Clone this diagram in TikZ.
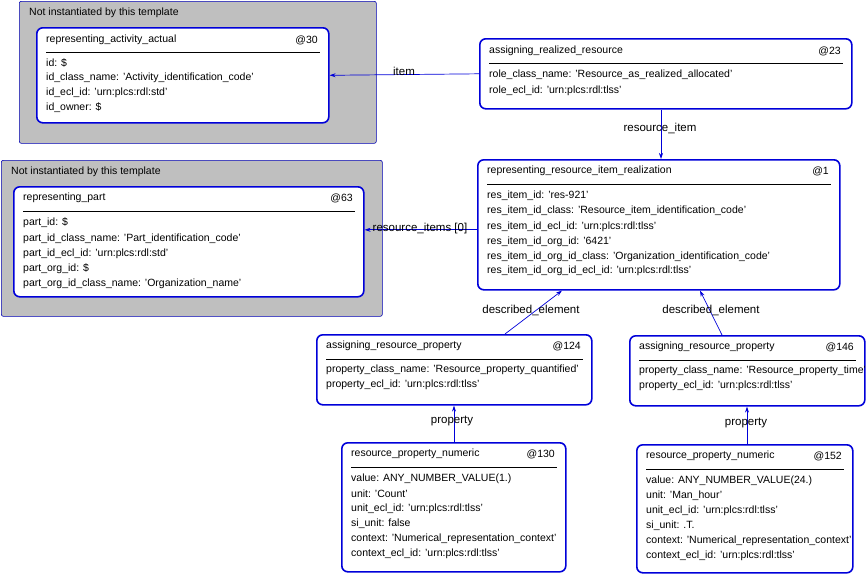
\documentclass[tikz,border=0pt]{standalone}
\usepackage{fontspec}
\setmainfont{Liberation Sans}
\usetikzlibrary{arrows.meta}
\begin{document}
\begin{tikzpicture}[x=1pt,y=-1pt,
  box/.style={draw=blue!85!black,line width=1.6pt,rounded corners=6pt,fill=white,anchor=north west,inner sep=0},
  grp/.style={draw=blue!70!black,line width=0.6pt,fill=black!25,rounded corners=2pt,anchor=north west,inner sep=0},
  t/.style={anchor=west,font=\fontsize{10.5}{11}\selectfont,inner sep=0},
  lab/.style={font=\fontsize{11.5}{12}\selectfont,inner sep=1pt},
  con/.style={draw=blue!85!black,line width=0.7pt,-{Stealth[length=6pt,width=4pt]}}]
\useasboundingbox (0,0) rectangle (868,576);
% groups
\node[grp,minimum width=357,minimum height=142] (g1) at (19,1) {};
\node[t] (g1t) at (29,13) {Not instantiated by this template};
\node[grp,minimum width=381,minimum height=156] (g2) at (1,160) {};
\node[t] (g2t) at (11,172) {Not instantiated by this template};
% @30
\node[box,minimum width=292,minimum height=95] (n30) at (36,27) {};
\draw ([shift={(10,25)}]n30.north west) -- ([shift={(-10,25)}]n30.north east);
\node[t] (a0) at (46,40) {representing\_activity\_actual};
\node[t,anchor=east] (a1) at (318,40) {@30};
\node[t] (a2) at (46,63) {id: \$};
\node[t] (a3) at (46,78) {id\_class\_name: 'Activity\_identification\_code'};
\node[t] (a4) at (46,93) {id\_ecl\_id: 'urn:plcs:rdl:std'};
\node[t] (a5) at (46,108) {id\_owner: \$};
% @63
\node[box,minimum width=350,minimum height=110] (n63) at (13,186) {};
\draw ([shift={(10,25)}]n63.north west) -- ([shift={(-10,25)}]n63.north east);
\node[t] (b0) at (23,198) {representing\_part};
\node[t,anchor=east] (b1) at (353,198) {@63};
\node[t] (b2) at (23,223) {part\_id: \$};
\node[t] (b3) at (23,239) {part\_id\_class\_name: 'Part\_identification\_code'};
\node[t] (b4) at (23,254) {part\_id\_ecl\_id: 'urn:plcs:rdl:std'};
\node[t] (b5) at (23,269) {part\_org\_id: \$};
\node[t] (b6) at (23,284) {part\_org\_id\_class\_name: 'Organization\_name'};
% @23
\node[box,minimum width=372,minimum height=70] (n23) at (479,38) {};
\draw ([shift={(10,25)}]n23.north west) -- ([shift={(-10,25)}]n23.north east);
\node[t] (c0) at (489,51) {assigning\_realized\_resource};
\node[t,anchor=east] (c1) at (841,51) {@23};
\node[t] (c2) at (489,75) {role\_class\_name: 'Resource\_as\_realized\_allocated'};
\node[t] (c3) at (489,91) {role\_ecl\_id: 'urn:plcs:rdl:tlss'};
% @1
\node[box,minimum width=362,minimum height=130] (n1) at (477,159) {};
\draw ([shift={(10,25)}]n1.north west) -- ([shift={(-10,25)}]n1.north east);
\node[t] (d0) at (487,171) {representing\_resource\_item\_realization};
\node[t,anchor=east] (d1) at (829,171) {@1};
\node[t] (d2) at (487,196) {res\_item\_id: 'res-921'};
\node[t] (d3) at (487,211) {res\_item\_id\_class: 'Resource\_item\_identification\_code'};
\node[t] (d4) at (487,227) {res\_item\_id\_ecl\_id: 'urn:plcs:rdl:tlss'};
\node[t] (d5) at (487,242) {res\_item\_id\_org\_id: '6421'};
\node[t] (d6) at (487,257) {res\_item\_id\_org\_id\_class: 'Organization\_identification\_code'};
\node[t] (d7) at (487,271) {res\_item\_id\_org\_id\_ecl\_id: 'urn:plcs:rdl:tlss'};
% @124
\node[box,minimum width=275,minimum height=70] (n124) at (316,334) {};
\draw ([shift={(10,25)}]n124.north west) -- ([shift={(-10,25)}]n124.north east);
\node[t] (e0) at (326,346) {assigning\_resource\_property};
\node[t,anchor=east] (e1) at (581,346) {@124};
\node[t] (e2) at (326,370) {property\_class\_name: 'Resource\_property\_quantified'};
\node[t] (e3) at (326,385) {property\_ecl\_id: 'urn:plcs:rdl:tlss'};
% @146
\node[box,minimum width=235,minimum height=70] (n146) at (629,335) {};
\draw ([shift={(10,25)}]n146.north west) -- ([shift={(-10,25)}]n146.north east);
\node[t] (f0) at (639,347) {assigning\_resource\_property};
\node[t,anchor=east] (f1) at (854,347) {@146};
\begin{scope}
\clip (629,360) rectangle (864,400);
\node[t] (f2) at (639,371) {property\_class\_name: 'Resource\_property\_time'};
\end{scope}
\node[t] (f3) at (639,386) {property\_ecl\_id: 'urn:plcs:rdl:tlss'};
% @130
\node[box,minimum width=224,minimum height=129] (n130) at (341,442) {};
\draw ([shift={(10,25)}]n130.north west) -- ([shift={(-10,25)}]n130.north east);
\node[t] (g0) at (351,454) {resource\_property\_numeric};
\node[t,anchor=east] (g1x) at (555,454) {@130};
\node[t] (g2x) at (351,479) {value: ANY\_NUMBER\_VALUE(1.)};
\node[t] (g3) at (351,494) {unit: 'Count'};
\node[t] (g4) at (351,509) {unit\_ecl\_id: 'urn:plcs:rdl:tlss'};
\node[t] (g5) at (351,524) {si\_unit: false};
\node[t] (g6) at (351,539) {context: 'Numerical\_representation\_context'};
\node[t] (g7) at (351,554) {context\_ecl\_id: 'urn:plcs:rdl:tlss'};
% @152
\node[box,minimum width=216,minimum height=128] (n152) at (636,444) {};
\draw ([shift={(10,25)}]n152.north west) -- ([shift={(-10,25)}]n152.north east);
\node[t] (h0) at (646,456) {resource\_property\_numeric};
\node[t,anchor=east] (h1) at (842,456) {@152};
\node[t] (h2) at (646,481) {value: ANY\_NUMBER\_VALUE(24.)};
\node[t] (h3) at (646,496) {unit: 'Man\_hour'};
\node[t] (h4) at (646,511) {unit\_ecl\_id: 'urn:plcs:rdl:tlss'};
\node[t] (h5) at (646,526) {si\_unit: .T.};
\node[t] (h6) at (646,541) {context: 'Numerical\_representation\_context'};
\node[t] (h7) at (646,556) {context\_ecl\_id: 'urn:plcs:rdl:tlss'};
% connectors
\draw[con] (n23.west) -- (n30.east);
\node[lab] (l1) at (404,71) {item};
\draw[con] ([xshift=182]n23.south west) -- ([xshift=184]n1.north west);
\node[lab] (l2) at (660,128) {resource\_item};
\draw[con] ([yshift=-5]n1.west) -- ([yshift=12]n63.east);
\node[lab] (l3) at (420,229) {resource\_items [0]};
\draw[con] ([xshift=189]n124.north west) -- ([xshift=85]n1.south west);
\node[lab] (l4) at (531,310) {described\_element};
\draw[con] ([xshift=93]n146.north west) -- ([xshift=223]n1.south west);
\node[lab] (l5) at (711,310) {described\_element};
\draw[con] ([xshift=113]n130.north west) -- ([xshift=138]n124.south west);
\node[lab] (l6) at (452,421) {property};
\draw[con] ([xshift=111]n152.north west) -- ([xshift=118]n146.south west);
\node[lab] (l7) at (746,423) {property};
\end{tikzpicture}
\end{document}
